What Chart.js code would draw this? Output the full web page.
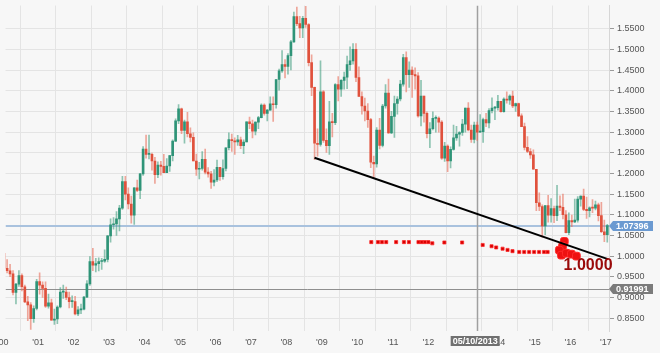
<!DOCTYPE html>
<html><head><meta charset="utf-8">
<script src="https://cdn.jsdelivr.net/npm/chart.js@4.4.1/dist/chart.umd.min.js"></script>
<style>
html,body{margin:0;padding:0;background:#f7f7f7;}
#wrap{width:660px;height:353px;position:relative;overflow:hidden;}
canvas{display:block;}
</style>
</head><body>
<div id="wrap"><canvas id="c" width="660" height="353"></canvas></div>
<script>
// Monthly EUR/USD candles, Jan 2000 .. Jan 2017
const firstYear = 2000;
const candleOpen = [
1.0070,0.9708,0.9646,0.9573,0.9124,0.9325,0.9531,0.9259,0.8893,0.8821,0.8488,0.8733,
0.9387,0.9300,0.9220,0.8790,0.8870,0.8450,0.8480,0.8770,0.9130,0.9130,0.9000,0.8900,
0.8900,0.8600,0.8700,0.8720,0.9010,0.9330,0.9870,0.9780,0.9820,0.9870,0.9880,0.9920,
1.0490,1.0760,1.0780,1.0900,1.1160,1.1800,1.1500,1.1260,1.0990,1.1650,1.1590,1.1990,
1.2590,1.2460,1.2460,1.2300,1.1970,1.2200,1.2170,1.2020,1.2180,1.2430,1.2780,1.3270,
1.3560,1.3040,1.3250,1.2960,1.2870,1.2300,1.2100,1.2120,1.2340,1.2030,1.1990,1.1790,
1.1840,1.2150,1.1920,1.2120,1.2620,1.2820,1.2790,1.2760,1.2810,1.2670,1.2760,1.3250,
1.3200,1.3020,1.3240,1.3350,1.3650,1.3450,1.3530,1.3680,1.3660,1.4270,1.4480,1.4630,
1.4590,1.4850,1.5180,1.5790,1.5620,1.5520,1.5750,1.5600,1.4680,1.4080,1.2730,1.2700,
1.3970,1.2800,1.2670,1.3250,1.3230,1.4150,1.4040,1.4250,1.4330,1.4630,1.4720,1.5000,
1.4320,1.3860,1.3630,1.3510,1.3300,1.2270,1.2230,1.3050,1.2680,1.3630,1.3940,1.2980,
1.3380,1.3690,1.3800,1.4160,1.4800,1.4390,1.4500,1.4390,1.4360,1.3390,1.3870,1.3450,
1.2960,1.3080,1.3330,1.3340,1.3240,1.2370,1.2660,1.2300,1.2580,1.2860,1.2950,1.2990,
1.3190,1.3580,1.3050,1.2820,1.3170,1.3000,1.3010,1.3300,1.3220,1.3520,1.3580,1.3590,
1.3740,1.3490,1.3800,1.3770,1.3870,1.3630,1.3690,1.3390,1.3130,1.2630,1.2530,1.2450,
1.2100,1.1290,1.1200,1.0730,1.1220,1.0990,1.1150,1.0980,1.1210,1.1180,1.1000,1.0570,
1.0860,1.0830,1.0870,1.1380,1.1450,1.1130,1.1100,1.1170,1.1160,1.1240,1.0980,1.0590,
1.0520];
const candleHigh = [
1.0414,0.9918,0.9800,0.9650,0.9340,0.9653,0.9574,0.9300,0.9030,0.8875,0.8800,0.9440,
0.9594,0.9380,0.9380,0.9080,0.8960,0.8720,0.8800,0.9240,0.9300,0.9250,0.9130,0.9040,
0.9030,0.8780,0.8840,0.9030,0.9410,0.9990,1.0190,0.9950,0.9960,0.9950,1.0150,1.0500,
1.0900,1.0930,1.1080,1.1230,1.1930,1.1930,1.1650,1.1450,1.1660,1.1840,1.2000,1.2650,
1.2930,1.2930,1.2490,1.2390,1.2280,1.2290,1.2460,1.2360,1.2440,1.2810,1.3320,1.3667,
1.3580,1.3290,1.3480,1.3100,1.2980,1.2470,1.2270,1.2530,1.2590,1.2140,1.2050,1.2090,
1.2320,1.2150,1.2330,1.2620,1.2980,1.2950,1.2860,1.2920,1.2880,1.2810,1.3250,1.3360,
1.3290,1.3250,1.3380,1.3680,1.3680,1.3550,1.3850,1.3850,1.4270,1.4520,1.4970,1.4750,
1.4900,1.5220,1.5900,1.6020,1.5800,1.5800,1.6040,1.5620,1.4870,1.4090,1.3080,1.4720,
1.4000,1.3080,1.3740,1.3450,1.4170,1.4340,1.4270,1.4450,1.4840,1.5060,1.5140,1.5140,
1.4580,1.3970,1.3820,1.3690,1.3330,1.2420,1.3110,1.3330,1.3670,1.4150,1.4280,1.3500,
1.3870,1.3860,1.4250,1.4880,1.4940,1.4700,1.4580,1.4550,1.4440,1.4250,1.3870,1.3490,
1.3230,1.3490,1.3390,1.3370,1.3280,1.2750,1.2690,1.2640,1.3170,1.3140,1.3010,1.3310,
1.3580,1.3710,1.3170,1.3240,1.3240,1.3420,1.3340,1.3450,1.3570,1.3830,1.3620,1.3890,
1.3740,1.3830,1.3970,1.3900,1.3990,1.3700,1.3700,1.3440,1.3220,1.2890,1.2600,1.2570,
1.2100,1.1530,1.1240,1.1220,1.1470,1.1390,1.1210,1.1710,1.1460,1.1500,1.1100,1.1050,
1.0990,1.1380,1.1440,1.1460,1.1620,1.1430,1.1190,1.1370,1.1330,1.1280,1.1300,1.0870,
1.0770];
const candleLow = [
0.9705,0.9594,0.9506,0.9064,0.8844,0.9270,0.9160,0.8873,0.8440,0.8228,0.8400,0.8700,
0.9080,0.9000,0.8760,0.8740,0.8450,0.8350,0.8370,0.8750,0.8980,0.8950,0.8750,0.8760,
0.8580,0.8560,0.8610,0.8700,0.9000,0.9290,0.9650,0.9620,0.9640,0.9680,0.9850,0.9860,
1.0340,1.0650,1.0500,1.0610,1.1130,1.1360,1.1140,1.0800,1.0765,1.1560,1.1390,1.1950,
1.2370,1.2350,1.2080,1.1760,1.1900,1.1960,1.2030,1.2020,1.2050,1.2300,1.2770,1.3200,
1.2960,1.2730,1.2880,1.2760,1.2300,1.1950,1.1870,1.2080,1.1990,1.1910,1.1640,1.1700,
1.1800,1.1830,1.1860,1.2060,1.2570,1.2530,1.2460,1.2680,1.2600,1.2480,1.2760,1.3080,
1.2860,1.2930,1.3080,1.3340,1.3410,1.3270,1.3530,1.3260,1.3580,1.4010,1.4440,1.4310,
1.4400,1.4500,1.5170,1.5570,1.5280,1.5280,1.5530,1.4600,1.3880,1.2330,1.2420,1.2660,
1.2750,1.2510,1.2460,1.2880,1.3180,1.3750,1.3860,1.4040,1.4050,1.4490,1.4640,1.4220,
1.3860,1.3430,1.3270,1.3110,1.2140,1.1876,1.2150,1.2590,1.2640,1.3580,1.2970,1.2960,
1.2870,1.3430,1.3750,1.4110,1.3970,1.4080,1.3840,1.4040,1.3360,1.3150,1.3240,1.2860,
1.2620,1.3050,1.3000,1.3000,1.2340,1.2290,1.2040,1.2130,1.2560,1.2800,1.2660,1.2920,
1.3000,1.3030,1.2750,1.2740,1.2800,1.3000,1.2750,1.3130,1.3100,1.3460,1.3300,1.3530,
1.3480,1.3480,1.3700,1.3670,1.3590,1.3500,1.3370,1.3130,1.2570,1.2500,1.2360,1.2100,
1.1100,1.1100,1.0460,1.0520,1.0820,1.0820,1.0810,1.0860,1.1100,1.0900,1.0560,1.0520,
1.0710,1.0810,1.0820,1.1210,1.1100,1.0910,1.0950,1.1050,1.1120,1.0850,1.0570,1.0350,
1.0340];
const candleClose = [
0.9708,0.9646,0.9573,0.9124,0.9325,0.9531,0.9259,0.8893,0.8821,0.8488,0.8733,0.9387,
0.9300,0.9220,0.8790,0.8870,0.8450,0.8480,0.8770,0.9130,0.9130,0.9000,0.8900,0.8900,
0.8600,0.8700,0.8720,0.9010,0.9330,0.9870,0.9780,0.9820,0.9870,0.9880,0.9920,1.0490,
1.0760,1.0780,1.0900,1.1160,1.1800,1.1500,1.1260,1.0990,1.1650,1.1590,1.1990,1.2590,
1.2460,1.2460,1.2300,1.1970,1.2200,1.2170,1.2020,1.2180,1.2430,1.2780,1.3270,1.3560,
1.3040,1.3250,1.2960,1.2870,1.2300,1.2100,1.2120,1.2340,1.2030,1.1990,1.1790,1.1840,
1.2150,1.1920,1.2120,1.2620,1.2820,1.2790,1.2760,1.2810,1.2670,1.2760,1.3250,1.3200,
1.3020,1.3240,1.3350,1.3650,1.3450,1.3530,1.3680,1.3660,1.4270,1.4480,1.4630,1.4590,
1.4850,1.5180,1.5790,1.5620,1.5520,1.5750,1.5600,1.4680,1.4080,1.2730,1.2700,1.3970,
1.2800,1.2670,1.3250,1.3230,1.4150,1.4040,1.4250,1.4330,1.4630,1.4720,1.5000,1.4320,
1.3860,1.3630,1.3510,1.3300,1.2270,1.2230,1.3050,1.2680,1.3630,1.3940,1.2980,1.3380,
1.3690,1.3800,1.4160,1.4800,1.4390,1.4500,1.4390,1.4360,1.3390,1.3870,1.3450,1.2960,
1.3080,1.3330,1.3340,1.3240,1.2370,1.2660,1.2300,1.2580,1.2860,1.2950,1.2990,1.3190,
1.3580,1.3050,1.2820,1.3170,1.3000,1.3010,1.3300,1.3220,1.3520,1.3580,1.3590,1.3740,
1.3490,1.3800,1.3770,1.3870,1.3630,1.3690,1.3390,1.3130,1.2630,1.2530,1.2450,1.2100,
1.1290,1.1200,1.0730,1.1220,1.0990,1.1150,1.0980,1.1210,1.1180,1.1000,1.0570,1.0860,
1.0830,1.0870,1.1380,1.1450,1.1130,1.1100,1.1170,1.1160,1.1240,1.0980,1.0590,1.0520,
1.07396];

// Trend line (decimal year, price)
const trendX = [2008.79, 2017.06];
const trendY = [1.2378, 0.9929];

// Red marker trail
const markerX = [2010.39,2010.58,2010.69,2010.81,2011.09,2011.31,2011.45,2011.72,2011.81,2011.90,2012.00,2012.11,2012.45,2012.95,
                 2013.53,2013.78,2013.91,2014.09,2014.23,2014.37,2014.56,2014.70,2014.84,2014.98,2015.12,2015.26,2015.36];
const markerY = [1.034,1.034,1.034,1.034,1.034,1.034,1.034,1.034,1.034,1.034,1.034,1.031,1.033,1.033,
                 1.027,1.024,1.021,1.018,1.015,1.012,1.010,1.010,1.010,1.010,1.010,1.010,1.010];
const blobX = [2015.83,2015.78,2015.69,2015.75,2015.89,2016.03,2016.17];
const blobY = [1.0357,1.0238,1.0143,1.0024,1.0071,1.0048,1.0000];

// Axis ticks and reference levels
const yearTicks = [2000,2001,2002,2003,2004,2005,2006,2007,2008,2009,2010,2011,2012,2013,2014,2015,2016,2017];
const priceTicks = [0.85,0.90,0.95,1.00,1.05,1.10,1.15,1.20,1.25,1.30,1.35,1.40,1.45,1.50,1.55];
const lastPrice = 1.07396;
const refPrice = 0.91991;
const cursorDate = 2013.36;
const cursorLabel = '05/10/2013';
const levelText = '1.0000';
const levelTextAt = {x: 2015.81, y: 0.9667};

// ---- build datasets ----
const t = candleClose.map((_, i) => firstYear + (i + 0.5) / 12);
const up = candleClose.map((c, i) => c >= candleOpen[i]);
const GREEN = '#2f9478', RED = '#e0513c';
const GREEN_W = 'rgba(70,160,130,0.6)', RED_W = 'rgba(232,110,90,0.6)';

const wickData = t.map((x, i) => ({x, y: [candleLow[i], candleHigh[i]]}));
const bodyData = t.map((x, i) => ({x, y: [candleOpen[i], candleClose[i]]}));

const overlay = {
  id: 'overlay',
  beforeDatasetsDraw(chart) {
    const {ctx, chartArea: a, scales: {x, y}} = chart;
    ctx.save();
    ctx.beginPath(); ctx.rect(a.left, a.top, a.right - a.left, a.bottom - a.top); ctx.clip();
    let py = Math.round(y.getPixelForValue(lastPrice));
    ctx.strokeStyle = '#a9c2de'; ctx.lineWidth = 2;
    ctx.beginPath(); ctx.moveTo(a.left, py); ctx.lineTo(a.right, py); ctx.stroke();
    py = Math.round(y.getPixelForValue(refPrice)) + 0.5;
    ctx.strokeStyle = '#8f8f8f'; ctx.lineWidth = 1;
    ctx.beginPath(); ctx.moveTo(a.left, py); ctx.lineTo(a.right, py); ctx.stroke();
    const px = Math.round(x.getPixelForValue(cursorDate)) + 0.5;
    ctx.strokeStyle = '#a0a0a0'; ctx.lineWidth = 1.5;
    ctx.beginPath(); ctx.moveTo(px, a.top); ctx.lineTo(px, a.bottom); ctx.stroke();
    ctx.restore();
  },
  afterDraw(chart) {
    const {ctx, chartArea: a, scales: {x, y}} = chart;
    ctx.save();
    ctx.font = 'bold 16px "Liberation Sans", Arial, sans-serif';
    ctx.fillStyle = '#9a0a0a';
    ctx.textAlign = 'left'; ctx.textBaseline = 'alphabetic';
    ctx.fillText(levelText, x.getPixelForValue(levelTextAt.x), y.getPixelForValue(levelTextAt.y));
    const tag = (val, bg) => {
      const yc = Math.round(y.getPixelForValue(val));
      ctx.fillStyle = bg;
      ctx.beginPath();
      ctx.moveTo(a.right, yc);
      ctx.lineTo(a.right + 4, yc - 5);
      ctx.lineTo(a.right + 44, yc - 5);
      ctx.lineTo(a.right + 44, yc + 5);
      ctx.lineTo(a.right + 4, yc + 5);
      ctx.closePath(); ctx.fill();
      ctx.fillStyle = '#ffffff';
      ctx.font = 'bold 9px "Liberation Sans", Arial, sans-serif';
      ctx.textAlign = 'left'; ctx.textBaseline = 'middle';
      ctx.fillText(val.toFixed(5), a.right + 7, yc + 0.5);
    };
    tag(lastPrice, '#6b9ad1');
    tag(refPrice, '#7b7b7b');
    const px = x.getPixelForValue(cursorDate);
    ctx.fillStyle = '#707070';
    ctx.fillRect(px - 26, a.bottom + 5, 49, 10);
    ctx.fillStyle = '#ffffff';
    ctx.font = 'bold 9px "Liberation Sans", Arial, sans-serif';
    ctx.textAlign = 'center'; ctx.textBaseline = 'middle';
    ctx.fillText(cursorLabel, px - 1.5, a.bottom + 10.5);
    ctx.restore();
  }
};

new Chart(document.getElementById('c'), {
  type: 'bar',
  data: {
    datasets: [
      {
        type: 'line', data: trendX.map((v, i) => ({x: v, y: trendY[i]})),
        borderColor: '#000000', borderWidth: 2, pointRadius: 0, order: 0
      },
      {
        type: 'line', data: blobX.map((v, i) => ({x: v, y: blobY[i]})),
        showLine: false, pointStyle: 'rectRounded', pointRadius: 4.5,
        backgroundColor: '#ee1111', borderColor: '#ff2a2a', borderWidth: 1, order: 1
      },
      {
        type: 'line', data: markerX.map((v, i) => ({x: v, y: markerY[i]})),
        showLine: false, pointStyle: 'rect', pointRadius: 2.2,
        backgroundColor: '#d80000', borderColor: 'rgba(255,40,40,0.7)', borderWidth: 1, order: 1
      },
      {
        type: 'bar', data: bodyData, grouped: false, barThickness: 2, minBarLength: 1,
        backgroundColor: up.map(u => u ? GREEN : RED), borderWidth: 0, order: 2
      },
      {
        type: 'bar', data: wickData, grouped: false, barThickness: 1,
        backgroundColor: up.map(u => u ? GREEN_W : RED_W), borderWidth: 0, order: 3
      }
    ]
  },
  options: {
    responsive: false, animation: false, devicePixelRatio: 1,
    layout: {padding: 0},
    plugins: {legend: {display: false}, tooltip: {enabled: false}},
    scales: {
      x: {
        type: 'linear', min: 2000.08, max: 2017.09, offset: false,
        grid: {color: '#e4e4e4', drawTicks: false},
        border: {display: false},
        afterBuildTicks: s => { s.ticks = yearTicks.map(v => ({value: v})); },
        ticks: {
          autoSkip: false, maxRotation: 0, padding: 6, color: '#555555',
          font: {size: 9, family: '"Liberation Sans", Arial, sans-serif'},
          callback: v => "'" + String(v).slice(2)
        },
        afterFit: s => { s.height = 22; s.paddingLeft = 0; s.paddingRight = 0; s.paddingTop = 0; s.paddingBottom = 0; }
      },
      y: {
        type: 'linear', position: 'right', min: 0.819, max: 1.606,
        grid: {color: '#e4e4e4', tickLength: 5, tickColor: '#9a9a9a'},
        border: {display: true, color: '#d6d6d6'},
        afterBuildTicks: s => { s.ticks = priceTicks.map(v => ({value: v})); },
        ticks: {
          padding: 3, color: '#555555',
          font: {size: 9, family: '"Liberation Sans", Arial, sans-serif'},
          callback: v => v.toFixed(4)
        },
        afterFit: s => { s.width = 51; s.paddingLeft = 0; s.paddingRight = 0; s.paddingTop = 0; s.paddingBottom = 0; }
      }
    }
  },
  plugins: [overlay]
});
</script>
</body></html>
